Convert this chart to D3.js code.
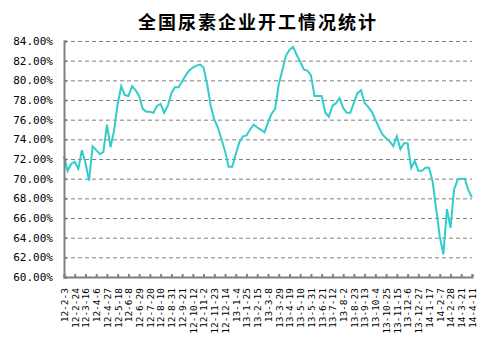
<!DOCTYPE html>
<html>
<head>
<meta charset="utf-8">
<script src="https://cdn.jsdelivr.net/npm/d3@7"></script>
<style>
  body { margin: 0; background: #fff; }
  .title { font-family: "Noto Sans CJK SC", sans-serif; font-weight: bold; font-size: 18px; letter-spacing: 2px; }
  .ylab text, .xlab text { font-family: "DejaVu Sans Mono", monospace; fill: #000; }
  .grid line { stroke: #808080; stroke-dasharray: 4 3; }
  .line { fill: none; stroke: #33cccc; stroke-width: 2; }
</style>
</head>
<body>
<div id="chart"></div>
<script>
// weekly labels, one every 3 weeks
const tickLabels = [
  "12-2-3", "12-2-24", "12-3-16", "12-4-6", "12-4-27", "12-5-18", "12-6-8", "12-6-29",
  "12-7-20", "12-8-10", "12-8-31", "12-9-21", "12-10-12", "12-11-2", "12-11-23", "12-12-14",
  "13-1-4", "13-1-25", "13-2-15", "13-3-8", "13-3-29", "13-4-19", "13-5-10", "13-5-31",
  "13-6-21", "13-7-12", "13-8-2", "13-8-23", "13-9-13", "13-10-4", "13-10-25", "13-11-15",
  "13-12-6", "13-12-27", "14-1-17", "14-2-7", "14-2-28", "14-3-21", "14-4-11"
];

// operating rate (%) per week
const rates = [
  72.3, 70.8, 71.5, 71.7, 71.0, 72.9, 71.6, 69.8, 73.3, 72.9,
  72.5, 72.7, 75.5, 73.2, 74.9, 77.6, 79.4, 78.5, 78.4, 79.4,
  79.0, 78.4, 77.1, 76.8, 76.8, 76.7, 77.4, 77.6, 76.7, 77.4,
  78.7, 79.3, 79.3, 79.9, 80.5, 81.0, 81.3, 81.5, 81.6, 81.3,
  79.6, 77.4, 76.0, 75.2, 74.0, 72.8, 71.2, 71.2, 72.5, 73.7,
  74.3, 74.4, 75.0, 75.5, 75.2, 75.0, 74.7, 75.7, 76.6, 77.1,
  79.6, 81.0, 82.5, 83.1, 83.4, 82.6, 81.9, 81.1, 81.0, 80.5,
  78.4, 78.4, 78.4, 76.7, 76.3, 77.4, 77.7, 78.2, 77.2, 76.7,
  76.7, 77.7, 78.7, 79.0, 77.7, 77.3, 76.8, 76.0, 75.2, 74.5,
  74.1, 73.8, 73.3, 74.3, 73.0, 73.6, 73.6, 71.1, 71.8, 70.8,
  70.8, 71.1, 71.1, 69.7, 66.9, 64.1, 62.3, 66.9, 65.0, 68.9,
  69.9, 70.0, 70.0, 68.8, 68.1
];

const yTicks = [60, 62, 64, 66, 68, 70, 72, 74, 76, 78, 80, 82, 84];

// Step 1: set up chart
//=========================
const svgWidth = 503, svgHeight = 351;
const margin = { top: 41, right: 31, bottom: 74, left: 64 };
const width = svgWidth - margin.left - margin.right;
const height = svgHeight - margin.top - margin.bottom;

const svg = d3.select("#chart").append("svg")
  .attr("width", svgWidth)
  .attr("height", svgHeight);

const chartGroup = svg.append("g")
  .attr("transform", `translate(${margin.left}, ${margin.top})`);

// Step 2: scales
//=========================
const x = d3.scaleLinear().domain([0, rates.length - 1]).range([0, width]);
const y = d3.scaleLinear().domain([60, 84]).range([height, 0]);

const tickIdx = tickLabels.map((d, i) => i * 3);

// Step 3: gridlines
//=========================
chartGroup.append("g")
  .attr("class", "grid")
  .selectAll("line")
  .data(yTicks.filter(d => d > 60))
  .enter().append("line")
  .attr("x1", 0).attr("x2", width)
  .attr("y1", d => y(d) + 0.5).attr("y2", d => y(d) + 0.5);

// Step 4: line
//=========================
const line = d3.line()
  .x((d, i) => x(i))
  .y(d => y(d));

chartGroup.append("path")
  .attr("d", line(rates))
  .classed("line", true);

// Step 5: axes
//=========================
const axisColor = "#808080";

// left axis
const yAxis = chartGroup.append("g")
  .attr("class", "ylab")
  .call(d3.axisRight(y)
    .tickValues(yTicks)
    .tickSize(3)
    .tickFormat(d => d.toFixed(2) + "%"));
yAxis.select(".domain").attr("stroke", axisColor).attr("stroke-width", 2);
yAxis.selectAll(".tick line").attr("stroke", axisColor).attr("stroke-width", 2);
yAxis.selectAll(".tick text")
  .attr("x", -11)
  .attr("text-anchor", "end")
  .style("font-size", "11px");

// bottom axis
const xAxis = chartGroup.append("g")
  .attr("class", "xlab")
  .attr("transform", `translate(0, ${height})`)
  .call(d3.axisTop(x)
    .tickValues(tickIdx)
    .tickSize(3)
    .tickFormat((d, i) => tickLabels[i]));
xAxis.select(".domain").attr("stroke", axisColor).attr("stroke-width", 2);
xAxis.selectAll(".tick line").attr("stroke", axisColor).attr("stroke-width", 2);
xAxis.selectAll(".tick text")
  .attr("transform", "rotate(-90)")
  .attr("x", -11)
  .attr("y", 0)
  .attr("dy", "0.35em")
  .attr("text-anchor", "end")
  .style("font-size", "9.5px");

// Step 6: title
//=========================
svg.append("text")
  .attr("x", 258)
  .attr("y", 29)
  .attr("text-anchor", "middle")
  .classed("title", true)
  .text("全国尿素企业开工情况统计");
</script>
</body>
</html>
